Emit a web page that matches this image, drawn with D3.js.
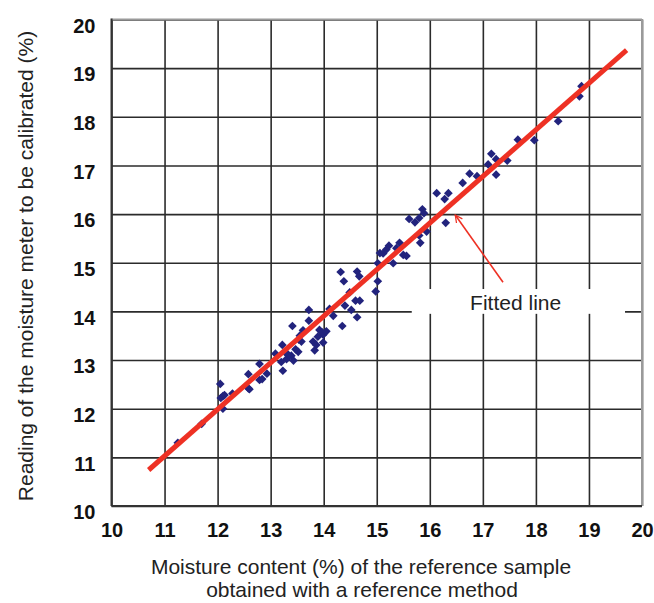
<!DOCTYPE html>
<html>
<head>
<meta charset="utf-8">
<script src="https://cdn.jsdelivr.net/npm/d3@7"></script>
<style>
body { margin: 0; background: #fff; }
text { font-family: "Liberation Sans", Arial, sans-serif; }
</style>
</head>
<body>
<div id="chart"></div>
<script>
// moisture content of the reference sample (x) vs meter reading (y)
var refMoisture = [11.25, 11.70, 12.05, 12.10, 12.06, 12.13, 12.28, 12.10, 12.58, 12.58,
    12.60, 12.79, 12.79, 12.93, 12.84, 13.09, 13.22, 13.23, 13.30, 13.39,
    13.43, 13.52, 13.33, 13.58, 13.80, 13.83, 13.86, 13.99, 13.92, 13.41,
    13.55, 13.61, 13.72, 13.72, 13.89, 13.97, 14.05, 14.11, 14.18, 14.35,
    14.40, 14.52, 14.49, 14.63, 14.60, 14.68, 14.32, 14.38, 14.63, 14.67,
    15.02, 14.98, 15.02, 15.12, 15.18, 15.23, 15.31, 15.37, 15.43, 15.50,
    15.56, 15.82, 15.94, 15.06, 15.61, 15.72, 15.80, 15.86, 15.89, 16.13,
    16.28, 16.35, 16.30, 16.62, 16.75, 16.89, 17.10, 17.16, 17.25, 17.25,
    17.46, 17.66, 17.97, 18.42, 18.82, 18.86, 13.20, 13.47, 13.28, 13.53,
    13.99, 15.80];
var meterReading = [11.30, 11.69, 12.51, 12.26, 12.22, 12.28, 12.31, 12.00, 12.71, 12.42,
    12.40, 12.92, 12.59, 12.72, 12.61, 13.13, 13.31, 12.78, 13.02, 13.09,
    12.99, 13.17, 13.11, 13.38, 13.38, 13.20, 13.31, 13.52, 13.62, 13.70,
    13.50, 13.61, 14.03, 13.81, 13.48, 13.57, 13.59, 14.05, 13.91, 13.70,
    14.12, 14.03, 14.39, 13.88, 14.22, 14.22, 14.81, 14.62, 14.82, 14.72,
    14.62, 14.41, 14.99, 15.19, 15.27, 15.35, 14.99, 15.30, 15.41, 15.16,
    15.14, 15.41, 15.64, 15.20, 15.90, 15.83, 15.92, 16.10, 16.02, 16.43,
    16.31, 16.43, 15.82, 16.64, 16.83, 16.78, 17.02, 17.24, 16.81, 17.13,
    17.10, 17.53, 17.52, 17.91, 18.42, 18.63, 12.96, 13.22, 13.15, 13.42,
    13.36, 15.56];

var fitX = [10.7, 19.71];
var fitY = [10.74, 19.37];

var xTicks = [10, 11, 12, 13, 14, 15, 16, 17, 18, 19, 20];
var yTicks = [10, 11, 12, 13, 14, 15, 16, 17, 18, 19, 20];

var width = 654, height = 603;
var margin = {top: 19.5, right: 12, bottom: 97, left: 111.5};
var w = width - margin.left - margin.right;
var h = height - margin.top - margin.bottom;

var svg = d3.select("#chart")
    .append("svg")
    .attr("width", width)
    .attr("height", height);

var graph = svg.append("g")
    .attr("transform", "translate(" + margin.left + "," + margin.top + ")");

var x = d3.scaleLinear().domain([10, 20]).range([0, w]);
var y = d3.scaleLinear().domain([10, 20]).range([h, 0]);

// grid + tick labels
var xAxisGroup = graph.append("g")
    .attr("transform", "translate(0," + h + ")")
    .call(d3.axisBottom(x).tickValues(xTicks).tickSize(-h).tickPadding(17));
var yAxisGroup = graph.append("g")
    .call(d3.axisLeft(y).tickValues(yTicks).tickSize(-w).tickPadding(16));

[xAxisGroup, yAxisGroup].forEach(function (g) {
    g.select(".domain").remove();
    g.selectAll(".tick line")
        .attr("stroke", "#2b2b2b")
        .attr("stroke-width", 1.6);
    g.selectAll(".tick text")
        .attr("fill", "#111")
        .attr("font-size", "20px")
        .attr("font-weight", "bold")
        .attr("font-family", "'Liberation Sans', Arial, sans-serif");
});
yAxisGroup.selectAll(".tick text").attr("dy", "0.64em");

// frame: dark left/bottom, grey top/right
graph.append("line").attr("x1", 0).attr("x2", w).attr("y1", 0).attr("y2", 0)
    .attr("stroke", "#9a9a9a").attr("stroke-width", 2);
graph.append("line").attr("x1", w).attr("x2", w).attr("y1", 0).attr("y2", h)
    .attr("stroke", "#9a9a9a").attr("stroke-width", 2);
graph.append("line").attr("x1", 0).attr("x2", 0).attr("y1", -1).attr("y2", h)
    .attr("stroke", "#333").attr("stroke-width", 2);
graph.append("line").attr("x1", 0).attr("x2", w).attr("y1", h).attr("y2", h)
    .attr("stroke", "#333").attr("stroke-width", 2);

// white box behind the annotation
graph.append("rect")
    .attr("x", x(15.66))
    .attr("y", y(14.46))
    .attr("width", x(19.68) - x(15.66))
    .attr("height", y(13.95) - y(14.46))
    .attr("fill", "#fff");

// points
var points = refMoisture.map(function (d, i) { return [d, meterReading[i]]; });
graph.selectAll("path.pt")
    .data(points)
    .enter()
    .append("path")
    .attr("class", "pt")
    .attr("d", d3.symbol(d3.symbolSquare, 38))
    .attr("transform", function (d) {
        return "translate(" + x(d[0]) + "," + y(d[1]) + ") rotate(45)";
    })
    .attr("fill", "#22237d");

// fitted line
graph.append("line")
    .attr("x1", x(fitX[0])).attr("y1", y(fitY[0]))
    .attr("x2", x(fitX[1])).attr("y2", y(fitY[1]))
    .attr("stroke", "#ee3124")
    .attr("stroke-width", 5);

// arrow + label
svg.append("defs").append("marker")
    .attr("id", "arrow")
    .attr("viewBox", "0 0 10 10")
    .attr("refX", 9).attr("refY", 5)
    .attr("markerWidth", 9).attr("markerHeight", 9)
    .attr("markerUnits", "userSpaceOnUse")
    .attr("orient", "auto")
    .append("path")
    .attr("d", "M1,1 L9,5 L1,9")
    .attr("fill", "none")
    .attr("stroke", "#ee3124")
    .attr("stroke-width", 1.4);

graph.append("line")
    .attr("x1", x(17.38)).attr("y1", y(14.6))
    .attr("x2", x(16.48)).attr("y2", y(15.98))
    .attr("stroke", "#ee3124")
    .attr("stroke-width", 1.6)
    .attr("marker-end", "url(#arrow)");

graph.append("text")
    .attr("x", x(16.76))
    .attr("y", y(14.03))
    .attr("font-size", "21px")
    .attr("fill", "#222")
    .text("Fitted line");

// axis titles
svg.append("text")
    .attr("x", 361)
    .attr("y", 574)
    .attr("text-anchor", "middle")
    .attr("font-size", "21px")
    .attr("fill", "#222")
    .text("Moisture content (%) of the reference sample");
svg.append("text")
    .attr("x", 362)
    .attr("y", 597)
    .attr("text-anchor", "middle")
    .attr("font-size", "21px")
    .attr("fill", "#222")
    .text("obtained with a reference method");

svg.append("text")
    .attr("transform", "translate(33,266) rotate(-90)")
    .attr("text-anchor", "middle")
    .attr("font-size", "21px")
    .attr("fill", "#222")
    .text("Reading of the moisture meter to be calibrated (%)");
</script>
</body>
</html>
